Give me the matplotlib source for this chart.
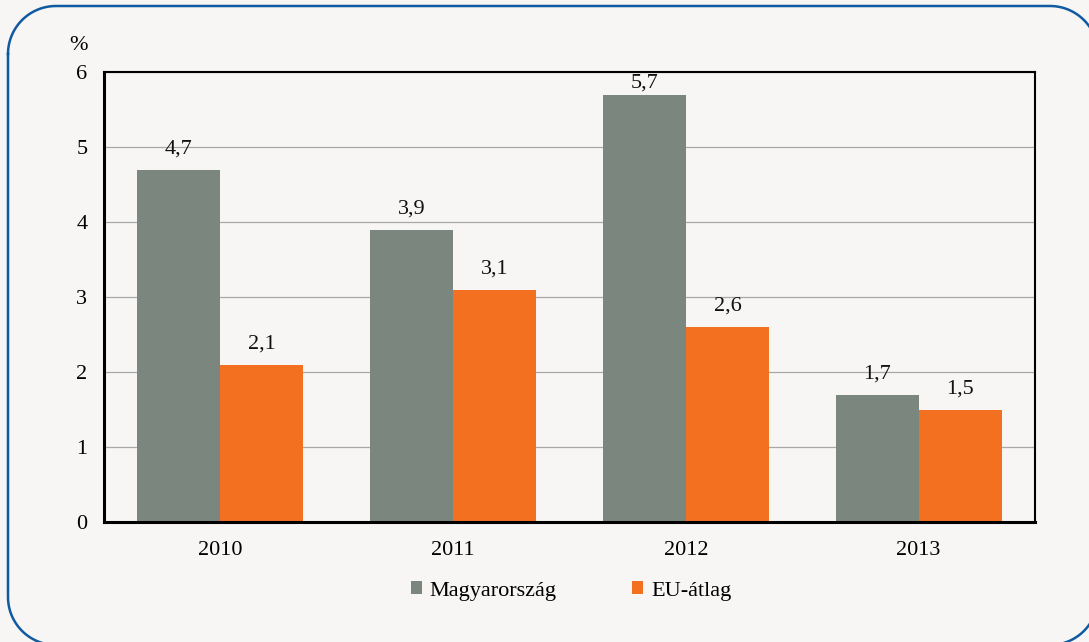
import matplotlib
matplotlib.use("Agg")
import matplotlib.pyplot as plt
import numpy as np

years = ["2010", "2011", "2012", "2013"]
hu_values = [4.7, 3.9, 5.7, 1.7]
eu_values = [2.1, 3.1, 2.6, 1.5]
series_names = ["Magyarország", "EU-átlag"]

plt.rcParams['font.family'] = ['Liberation Serif', 'DejaVu Serif']

bg = "#F7F6F4"
fs = 16
fig = plt.figure(figsize=(10.89, 6.42), dpi=100, facecolor=bg)

# overlay axes in pixel units for the rounded frame (drawn as a sampled polyline)
frame_ax = fig.add_axes([0, 0, 1, 1], zorder=-1)
frame_ax.set_xlim(0, 1089)
frame_ax.set_ylim(642, 0)
frame_ax.axis("off")
x0, y0, x1, y1, r = 8, 6, 1098, 645, 48
t = np.linspace(0, np.pi / 2, 30)
fx = np.concatenate([x0 + r - r * np.cos(t), x1 - r + r * np.sin(t),
                     x1 - r + r * np.cos(t), x0 + r - r * np.sin(t), [x0]])
fy = np.concatenate([y0 + r - r * np.sin(t), y0 + r - r * np.cos(t),
                     y1 - r + r * np.sin(t), y1 - r + r * np.cos(t), [y0 + r]])
frame_ax.plot(fx, fy, color="#0F5AA0", linewidth=1.8, clip_on=False)

ax = fig.add_axes([104 / 1089, 1 - 522 / 642, (1035 - 104) / 1089, (522 - 72) / 642])
ax.set_facecolor(bg)

x = np.arange(len(years))
w = 0.357
b1 = ax.bar(x - w / 2, hu_values, w, color="#7B877E", label=series_names[0], zorder=3)
b2 = ax.bar(x + w / 2, eu_values, w, color="#F37021", label=series_names[1], zorder=3)

# labels are kept inside the plot area, as in the original
for bars, vals in ((b1, hu_values), (b2, eu_values)):
    for rect, v in zip(bars, vals):
        ax.text(rect.get_x() + rect.get_width() / 2, min(v + 0.15, 5.72),
                f"{v:.1f}".replace(".", ","), ha="center", va="bottom",
                fontsize=fs, color="#111111", zorder=5)

ax.set_xlim(-0.5, 3.5)
ax.set_ylim(0, 6)
ax.set_xticks(x)
ax.set_xticklabels(years, fontsize=fs)
ax.set_yticks(range(0, 7))
ax.set_yticklabels([str(i) for i in range(0, 7)], fontsize=fs)
ax.tick_params(length=0, pad=12)
ax.tick_params(axis="x", pad=14)
ax.grid(axis="y", color="#A8A8A8", linewidth=0.9, zorder=0)

for side in ["top", "right"]:
    ax.spines[side].set_linewidth(1.5)
for side in ["left", "bottom"]:
    ax.spines[side].set_linewidth(2.2)
for s in ax.spines.values():
    s.set_color("black")
    s.set_zorder(4)

fig.text(78 / 1089, 1 - 45 / 642, "%", fontsize=fs, ha="center", va="center")

fig.legend(loc="center", bbox_to_anchor=(571 / 1089, 1 - 591 / 642), ncol=2,
           frameon=False, fontsize=fs, handlelength=0.5, handleheight=0.5,
           handletextpad=0.35, columnspacing=3.4)

fig.savefig("out.png", dpi=100, facecolor=bg)
